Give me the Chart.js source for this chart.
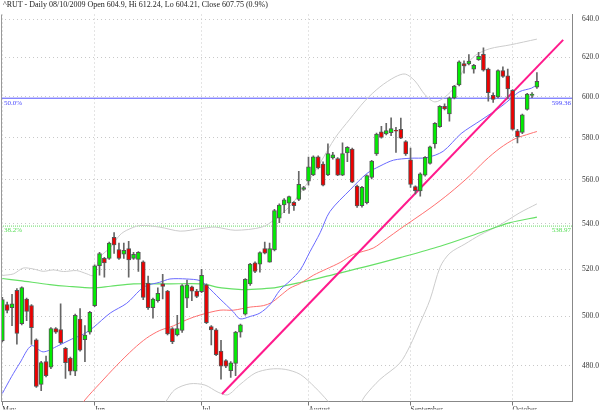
<!DOCTYPE html>
<html>
<head>
<meta charset="utf-8">
<script src="https://cdn.jsdelivr.net/npm/chart.js@4.4.1/dist/chart.umd.min.js"></script>
<style>
  body { margin: 0; background: #fff; overflow: hidden; }
  #wrap { position: relative; width: 600px; height: 416px; }
  #title { position: absolute; left: 3px; top: 0px; font: 8px "Liberation Serif", serif; color: #222; white-space: nowrap; }
</style>
</head>
<body>
<div id="wrap">
  <canvas id="chart" width="600" height="416"></canvas>
  <div id="title">^RUT - Daily 08/10/2009 Open 604.9, Hi 612.24, Lo 604.21, Close 607.75 (0.9%)</div>
</div>
<script>
// trading days, 0 = first bar on the chart (early May 2009)
const monthTicks = [0, 19, 41, 63, 84, 105];
const monthLabels = ['May', 'Jun', 'Jul', 'August', 'September', 'October'];
const priceTicks = [480, 500, 520, 540, 560, 580, 600, 620, 640];

const opens = [490.0,505.0,503.7,511.0,497.0,507.3,504.5,490.4,472.6,481.6,
  479.4,495.0,494.6,486.9,483.0,477.8,498.9,490.4,493.5,504.5,
  521.5,524.7,524.7,534.0,528.6,526.5,529.0,524.7,524.3,523.2,
  514.1,503.7,506.6,513.7,510.6,495.0,492.4,494.2,507.6,512.4,
  510.6,510.4,513.3,495.8,494.5,485.8,482.0,478.0,480.9,493.5,
  500.9,513.7,522.8,522.2,529.0,523.1,528.4,542.5,548.5,549.3,
  549.7,551.0,555.6,559.4,562.4,570.9,567.4,562.4,570.4,570.1,
  562.3,572.7,574.6,557.2,548.2,549.6,561.2,572.3,582.9,581.8,
  582.4,583.6,584.1,578.1,569.4,556.9,554.9,562.3,567.8,577.0,
  585.4,595.3,591.6,599.5,606.0,616.9,616.7,614.0,618.9,621.6,
  614.0,600.8,600.0,613.2,610.6,603.3,583.3,582.6,593.8,600.7,
  604.9];
const highs = [508,506,509.3,511.7,512.5,507.7,505,490.8,481.7,483.8,
  495.4,495.4,505.3,487.3,483.4,501,503.3,496.2,502.1,521.9,
  527.3,525.2,531.8,536.1,531.4,531.4,532.2,527.3,527.7,523.6,
  517,507.7,512,517.8,511,495.4,500.5,513.4,515.3,512.8,
  511.4,520,513.7,496.2,495,490.2,482.4,481.6,493.9,496.8,
  516,522.6,523.2,527.6,531.8,531.4,546.5,549,551.4,552.6,
  550.1,564,557,570.8,571.3,571.3,568.5,577.1,573,570.5,
  577.5,575.8,575,557.6,557,562.4,569.2,582.2,585.5,587,
  589.7,585,589.5,578.6,575,557.3,563.3,571,576,587.4,
  595.7,596.5,599.9,605.8,618.2,618.3,621.5,616.5,622.6,625,
  614.5,602,613.6,615.2,614,603.7,584,591.5,601.8,602.2,
  612.24];
const lows = [489.5,501.5,496.2,488.6,496.5,498.3,488.5,471.4,470.1,475.5,
  478.8,493,488.8,474.9,476.3,476,485.8,481.6,492.7,504.1,
  517.4,516.6,524.3,526.9,524.3,524.7,516.6,524.3,519,507,
  502.9,499.3,506,507.3,492.4,488.8,492,493.4,503.7,506.6,
  507.9,510,497,488.3,484,474.6,479.2,475.3,476,491.5,
  500.5,513,518.5,518.7,526.6,523,528,540.5,545,544.7,
  546,550.5,555.2,557.6,562,565.2,557.2,562,569.8,562,
  562,568.6,558.7,547.4,547.5,549,560.5,571.5,579.8,581.4,
  581,573,579.5,571.5,556.5,553.5,552.5,561.8,567.4,575,
  585,593.5,588,599,605.5,612,616.2,612,618.5,613,
  597.9,597.3,599.5,609.8,599,583.6,577.5,582,593.4,599.6,
  604.21];
const closes = [507.0,502.5,505.3,493.0,512.1,502.1,495.4,471.8,481.2,476.0,
  495.0,493.5,489.2,481.2,477.8,500.5,486.2,492.3,501.7,521.5,
  526.8,522.7,531.4,530.6,524.7,528.2,524.0,526.5,527.3,508.0,
  503.7,507.3,509.7,512.6,492.8,489.6,495.0,513.0,513.3,510.6,
  508.4,517.4,497.4,494.4,484.4,479.8,479.8,481.1,493.5,496.5,
  515.6,522.2,519.0,527.2,527.0,529.0,546.0,548.4,550.9,552.3,
  548.2,558.0,556.5,566.1,570.9,565.6,557.6,572.4,571.8,562.3,
  572.4,575.4,559.0,548.1,556.6,562.0,568.9,581.8,580.1,583.5,
  584.4,583.2,579.8,572.2,557.9,555.0,562.9,570.6,575.6,587.0,
  595.3,594.1,599.5,605.4,617.7,615.6,618.1,615.9,620.5,613.5,
  602.1,598.8,613.2,610.3,604.0,584.0,580.5,591.1,601.4,601.4,
  607.75];

// overlays at the given bar positions
const ma20Day = [0,1.9,3.6,6,8.4,11.5,14.3,16.7,18.7,22.2,25.6,28.3,29.7,32.4,34.5,37.9,40.7,42,44.8,47.5,48.9,51,53,55.1,57.1,59.2,61.3,63.3,65.4,67.4,71.6,75,77.7,80.5,83.9,87.3,90.7,94.4,98.5,102.8,104.8,106.5,108.9,110];
const ma20Val = [469,475.6,481,488,485.5,488,490.7,492.7,495.4,501.4,505.5,511,513,514.4,515.8,515.8,515.1,513,507.3,502,499,500,501.4,505,511,515,519.7,527.6,536,545.5,555.5,563,566.5,569.3,570.2,570.5,573.5,582,588.5,595.5,599.5,602.7,604.4,606.1];
const ma50Day = [15,17,20.1,23.5,27,29.7,32.4,35.2,37.9,40.7,44.8,47.5,51,53.7,55.4,57.1,59.2,61.3,64,66.7,69.5,72.2,76.3,79.1,81.8,88,92.1,96.2,99.3,102.4,105.5,108.6,110];
const ma50Val = [461,466.5,473,480,486.7,491.1,494.2,496.1,498.6,500.6,502.6,502.6,503.9,504.5,505.8,508.5,511.9,513.9,517.4,520.1,522.9,526.4,529.2,533.4,537.6,547,554,562,569,575,579.5,582,583];
const ma200Day = [0,3.6,9.8,13.3,18.7,22.2,27,34.2,41,45.1,49.3,53.4,56.5,61.3,68.1,75,81.8,90.1,98.3,104.5,110];
const ma200Val = [516,515.1,513.4,512.7,512,512.7,513.7,513.7,513.7,512,511.3,511.6,512.2,514.3,517.7,521.2,525,530,536,540.5,543];
const upperDay = [0,2.3,4.3,6.4,8.4,10.5,12.6,15.3,17.4,18.7,20.1,22.2,24.2,25.6,28.3,32.4,36.6,40.7,43.8,47.9,53.4,56.1,59.2,62.3,65.4,68.5,71.5,74.6,77.7,80.8,82.9,84.9,87,89,91.1,93.1,95.2,97.3,100.3,104.5,110];
const upperVal = [517.3,518,520.5,520.1,519.1,519.7,519,519.4,518,517.3,525.2,529.4,535,537.1,539.2,538.5,536.7,537.8,538.5,537.1,538.5,542,548,557,568,580,589,598,605,610,611.5,608,601,597.5,600,605,615,621,624.5,626.5,629.5];
const lowerDay = [32.4,33.7,35.5,38.6,41.7,44.4,46.4,48.9,52,55.1,58.2,61.3,64.3,67,69.5,72.6,74.6,77.7,81.8,83.9,85.9,88,90.1,92.1,95.2,98.3,102.4,106.5,110];
const lowerVal = [462,466,470.5,472.8,472.3,469.5,468.5,472.5,477,478.6,478.5,476.5,471.5,466,460,462,468,474.5,481,488,497,507,521,527,531,535,539.5,545,549];
const trendDay = [45.2, 115.4];
const trendVal = [468.8, 629.1];
const fibVal = [599.36, 538.97];
const fibLabel = ['50.0%', '38.2%'];
const fibColor = ['#4a4aff', '#55dd55'];

const X_MIN = -0.27, X_MAX = 117.22;

function pts(days, vals) {
    return days.map((d, i) => ({ x: d, y: vals[i] }));
}

function lineSet(days, vals, color, width, order) {
    return {
        type: 'line',
        data: pts(days, vals),
        borderColor: color,
        borderWidth: width,
        pointRadius: 0,
        tension: 0.3,
        order: order
    };
}

const dayIdx = opens.map((v, i) => i);

const overlay = {
    id: 'overlay',
    afterDatasetsDraw(chart) {
        const { ctx, chartArea, scales } = chart;
        ctx.save();
        // left frame line
        ctx.strokeStyle = '#999';
        ctx.lineWidth = 1;
        ctx.beginPath();
        ctx.moveTo(chartArea.left + 0.5, chartArea.top);
        ctx.lineTo(chartArea.left + 0.5, chartArea.bottom);
        ctx.stroke();
        // retracement labels
        ctx.font = '7px "Liberation Serif"';
        ctx.textBaseline = 'top';
        fibVal.forEach((v, k) => {
            const y = scales.y.getPixelForValue(v);
            ctx.fillStyle = fibColor[k];
            ctx.textAlign = 'left';
            ctx.fillText(fibLabel[k], chartArea.left + 3, y + 1);
            ctx.textAlign = 'right';
            ctx.fillText(v.toFixed(2), chartArea.right - 1, y + 1);
        });
        ctx.restore();
    }
};

new Chart(document.getElementById('chart').getContext('2d'), {
    type: 'bar',
    data: {
        datasets: [
            {
                type: 'bar',
                data: dayIdx.map(i => ({ x: i, y: [opens[i], closes[i]] })),
                backgroundColor: dayIdx.map(i => closes[i] >= opens[i] ? '#00ee00' : '#ee0000'),
                borderColor: '#555',
                borderWidth: 1,
                borderSkipped: false,
                barThickness: 4,
                grouped: false,
                order: 1
            },
            {
                type: 'bar',
                data: dayIdx.map(i => ({ x: i, y: [lows[i], highs[i]] })),
                backgroundColor: '#666',
                barThickness: 1,
                grouped: false,
                order: 2
            },
            lineSet(trendDay, trendVal, '#ff1a8c', 2, 3),
            lineSet(ma20Day, ma20Val, '#6a6aff', 1, 4),
            lineSet(ma50Day, ma50Val, '#ff7070', 1, 4),
            lineSet(ma200Day, ma200Val, '#66e066', 1.2, 4),
            lineSet(upperDay, upperVal, '#cccccc', 1, 5),
            lineSet(lowerDay, lowerVal, '#cccccc', 1, 5),
            {
                type: 'line',
                data: [{ x: X_MIN, y: fibVal[0] }, { x: X_MAX, y: fibVal[0] }],
                borderColor: '#5050ff', borderWidth: 1, pointRadius: 0, order: 6
            },
            {
                type: 'line',
                data: [{ x: X_MIN, y: fibVal[1] }, { x: X_MAX, y: fibVal[1] }],
                borderColor: '#66dd66', borderWidth: 1, borderDash: [1, 1], pointRadius: 0, order: 6
            }
        ]
    },
    options: {
        responsive: false,
        animation: false,
        layout: { padding: { left: 1, top: 0, right: 0, bottom: 0 } },
        plugins: { legend: { display: false }, tooltip: { enabled: false } },
        scales: {
            x: {
                type: 'linear',
                offset: false,
                min: X_MIN,
                max: X_MAX,
                afterBuildTicks: s => { s.ticks = monthTicks.map(v => ({ value: v })); },
                afterFit: s => { s.height = 8; },
                ticks: {
                    callback: v => monthLabels[monthTicks.indexOf(v)],
                    align: 'start',
                    autoSkip: false,
                    maxRotation: 0,
                    padding: 0,
                    color: '#333',
                    font: { family: 'Liberation Serif', size: 7.5 }
                },
                grid: { offset: false, color: '#c8c8c8', tickLength: 4, tickColor: '#777', borderDash: [1, 3] },
                border: { color: '#888', dash: [1, 3] }
            },
            y: {
                type: 'logarithmic',
                position: 'right',
                min: 465.9,
                max: 642.5,
                afterBuildTicks: s => { s.ticks = priceTicks.map(v => ({ value: v })); },
                afterFit: s => { s.width = 28; },
                ticks: {
                    callback: v => Number(v).toFixed(1),
                    padding: 10,
                    color: '#333',
                    font: { family: 'Liberation Serif', size: 7.5 }
                },
                grid: { color: '#c8c8c8', drawTicks: false, borderDash: [1, 3] },
                border: { color: '#888', dash: [1, 3] }
            }
        }
    },
    plugins: [overlay]
});
</script>
</body>
</html>
